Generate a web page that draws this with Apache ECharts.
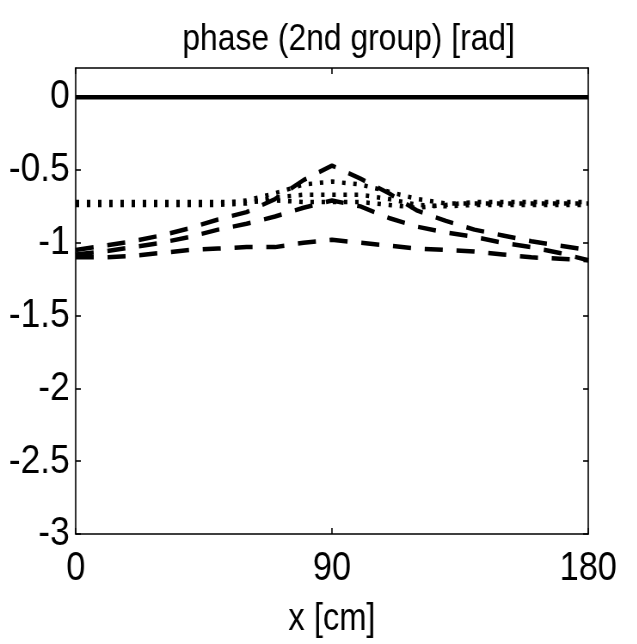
<!DOCTYPE html>
<html><head><meta charset="utf-8">
<script src="https://cdn.jsdelivr.net/npm/echarts@6/dist/echarts.min.js"></script>
<style>
html,body{margin:0;padding:0;background:#fff;overflow:hidden;width:637px;height:644px}
#wrap{width:637px;height:644px;overflow:hidden;position:relative}
#c{width:741px;height:644px;transform:scaleX(0.86);transform-origin:0 0;position:absolute;left:0;top:0}
</style>
</head><body><div id="wrap"><div id="c"></div></div>
<script>
const xCm = [0,10,20,30,40,50,60,70,80,90,100,110,120,130,140,150,160,170,180];
const solidZero = [0,0,0,0,0,0,0,0,0,0,0,0,0,0,0,0,0,0,0];
const dotted1 = [-0.73,-0.73,-0.73,-0.73,-0.73,-0.73,-0.71,-0.66,-0.60,-0.58,-0.60,-0.65,-0.70,-0.73,-0.73,-0.73,-0.73,-0.73,-0.73];
const dotted2 = [-0.74,-0.74,-0.74,-0.74,-0.74,-0.74,-0.73,-0.69,-0.67,-0.67,-0.67,-0.70,-0.74,-0.75,-0.74,-0.74,-0.74,-0.74,-0.74];
const dotted3 = [-0.72,-0.72,-0.72,-0.72,-0.72,-0.72,-0.72,-0.71,-0.72,-0.72,-0.72,-0.74,-0.76,-0.74,-0.72,-0.72,-0.72,-0.72,-0.72];
const dashedA = [-1.05,-1.02,-0.99,-0.95,-0.90,-0.84,-0.79,-0.70,-0.57,-0.47,-0.56,-0.66,-0.78,-0.85,-0.91,-0.95,-0.99,-1.02,-1.05];
const dashedB = [-1.08,-1.06,-1.03,-1.00,-0.96,-0.91,-0.87,-0.82,-0.76,-0.71,-0.75,-0.83,-0.89,-0.93,-0.96,-1.00,-1.03,-1.07,-1.12];
const dashedC = [-1.10,-1.10,-1.09,-1.07,-1.05,-1.04,-1.03,-1.03,-1.00,-0.98,-1.00,-1.02,-1.04,-1.05,-1.06,-1.08,-1.10,-1.11,-1.12];
const xTicks = [0,90,180];
const yTicks = [-3,-2.5,-2,-1.5,-1,-0.5,0];
const titleText = 'phase (2nd group) [rad]';
const xName = 'x [cm]';

const FONT = '"Liberation Sans",Arial,Helvetica,sans-serif';
const pair = arr => xCm.map((x,i)=>[x,arr[i]]);
const chart = echarts.init(document.getElementById('c'), null, {renderer:'canvas'});
const axisLine = {show:true, onZero:false, lineStyle:{color:'#000', width:1.6}};
const tickStyle = {color:'#000', width:1.6};
const mk = (data, type, width) => ({
  type:'line', data:pair(data), symbol:'none', silent:true, animation:false,
  lineStyle:{color:'#000', width:width, type:type, cap:'butt'}
});
chart.setOption({
  animation:false,
  backgroundColor:'#fff',
  title:{text:titleText, left:207, top:16, textStyle:{fontFamily:FONT, fontSize:37, fontWeight:'normal', color:'#000'}},
  grid:{left:88, right:57, top:68, bottom:86, containLabel:false},
  xAxis:[
    {type:'value', min:0, max:180, interval:90, position:'bottom',
     axisLine:axisLine, splitLine:{show:false},
     axisTick:{show:true, inside:true, length:6, customValues:xTicks, lineStyle:tickStyle},
     axisLabel:{customValues:xTicks, margin:15, fontFamily:FONT, fontSize:40, color:'#000'},
     name:xName, nameLocation:'middle', nameGap:67,
     nameTextStyle:{fontFamily:FONT, fontSize:38, color:'#000'}},
    {type:'value', min:0, max:180, interval:90, position:'top',
     axisLine:axisLine, splitLine:{show:false},
     axisTick:{show:true, inside:true, length:6, customValues:xTicks, lineStyle:tickStyle},
     axisLabel:{show:false}}
  ],
  yAxis:[
    {type:'value', min:-3, max:0.2, interval:0.5, position:'left',
     axisLine:axisLine, splitLine:{show:false},
     axisTick:{show:true, inside:true, length:6, customValues:yTicks, lineStyle:tickStyle},
     axisLabel:{customValues:yTicks, margin:7, fontFamily:FONT, fontSize:41, color:'#000'}},
    {type:'value', min:-3, max:0.2, interval:0.5, position:'right',
     axisLine:axisLine, splitLine:{show:false},
     axisTick:{show:true, inside:true, length:6, customValues:yTicks, lineStyle:tickStyle},
     axisLabel:{show:false}}
  ],
  series:[
    mk(solidZero,'solid',4.5),
    mk(dotted1,[4,9],4.5),
    mk(dotted2,[4,9],4.5),
    mk(dotted3,[4,9],4.5),
    mk(dashedA,[21,16],4.5),
    mk(dashedB,[21,16],4.5),
    mk(dashedC,[21,16],4.5)
  ]
});
</script></body></html>
